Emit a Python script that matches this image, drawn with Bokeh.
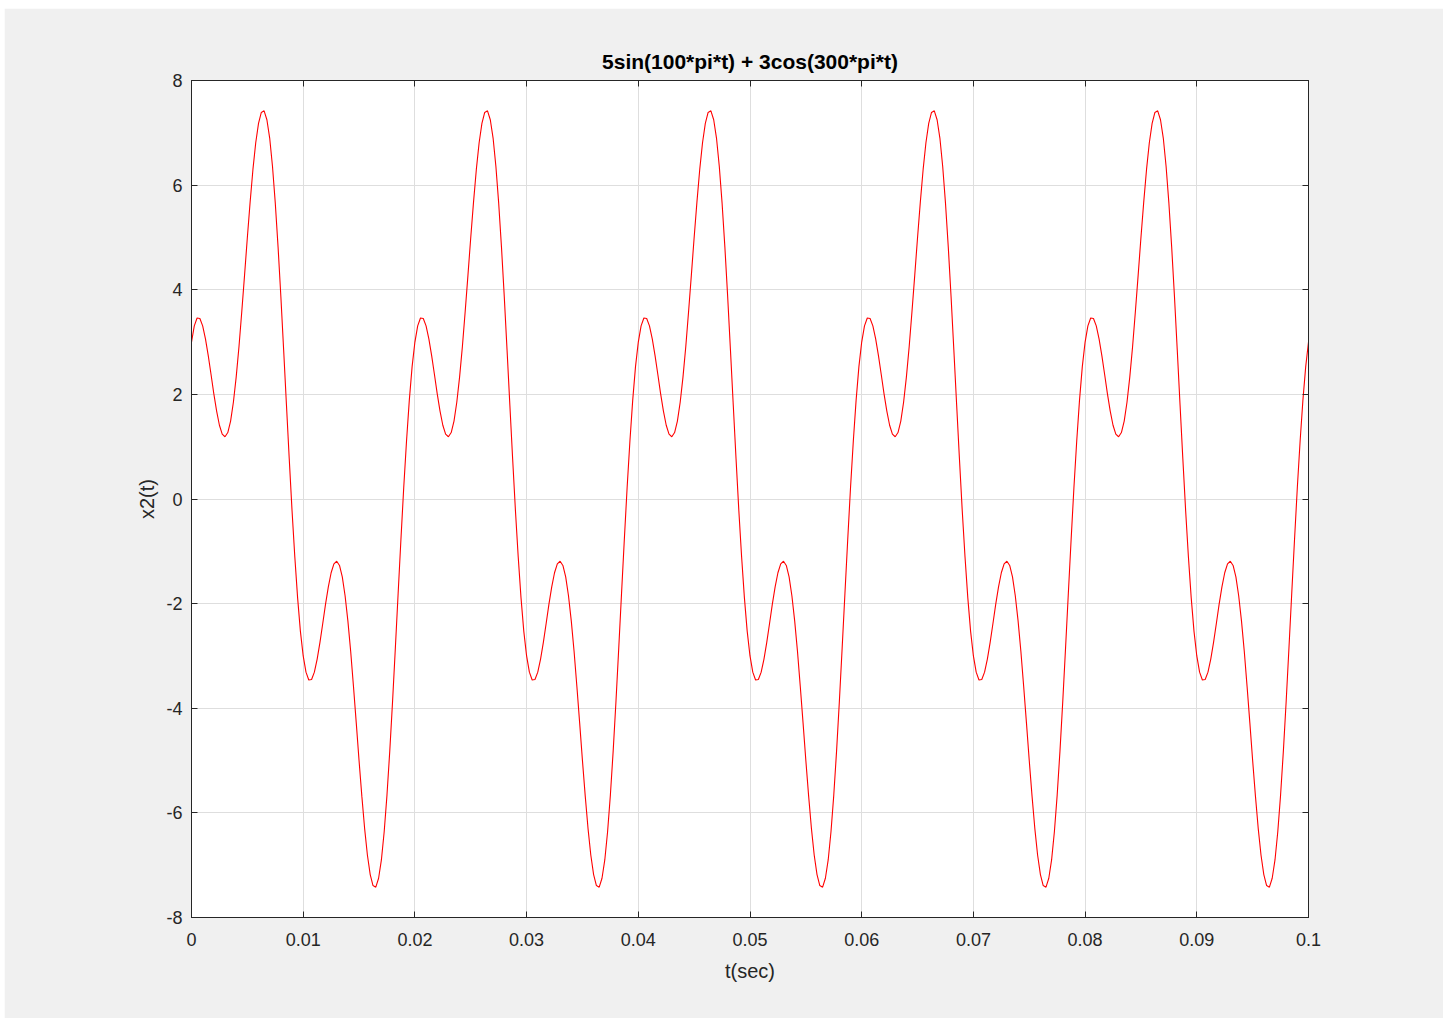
from bokeh.plotting import figure
from bokeh.models import Range1d, LinearAxis, FixedTicker, CustomJSTickFormatter, ColumnDataSource
from bokeh.embed import file_html
from bokeh.resources import INLINE

title_text = "5sin(100*pi*t) + 3cos(300*pi*t)"
x_label = "t(sec)"
y_label = "x2(t)"
x_ticks = [0, 0.01, 0.02, 0.03, 0.04, 0.05, 0.06, 0.07, 0.08, 0.09, 0.1]
y_ticks = [-8, -6, -4, -2, 0, 2, 4, 6, 8]

# one 0.02 s period of the waveform (80 samples)
x2_one_period = [
    3.00, 3.31, 3.46, 3.45, 3.31, 3.06, 2.74, 2.38, 2.01, 1.68,
    1.41, 1.24, 1.19, 1.27, 1.49, 1.85, 2.33, 2.91, 3.58, 4.28,
    5.00, 5.68, 6.30, 6.81, 7.18, 7.39, 7.42, 7.25, 6.90, 6.36,
    5.66, 4.82, 3.87, 2.85, 1.80, 0.77, -0.22, -1.11, -1.89, -2.53,
    -3.00, -3.31, -3.46, -3.45, -3.31, -3.06, -2.74, -2.38, -2.01, -1.68,
    -1.41, -1.24, -1.19, -1.27, -1.49, -1.85, -2.33, -2.91, -3.58, -4.28,
    -5.00, -5.68, -6.30, -6.81, -7.18, -7.39, -7.42, -7.25, -6.90, -6.36,
    -5.66, -4.82, -3.87, -2.85, -1.80, -0.77, 0.22, 1.11, 1.89, 2.53,
]
x2 = x2_one_period * 5 + [3.00]
t = [round(k * 0.00025, 5) for k in range(len(x2))]

src = ColumnDataSource(dict(t=t, x2=x2))

FONT = "Liberation Sans"
DARK = "#262626"

p = figure(width=1439, height=1010, output_backend="svg", toolbar_location=None,
           x_range=Range1d(0, 0.1), y_range=Range1d(-8, 8),
           min_border_left=187, min_border_right=135, min_border_top=72, min_border_bottom=101)
p.styles = {"margin-left": "4px", "margin-top": "8px"}

p.border_fill_color = "#f0f0f0"
p.background_fill_color = "white"
p.outline_line_color = DARK
p.outline_line_width = 1

p.title.text = title_text
p.title.align = "center"
p.title.text_font = FONT
p.title.text_font_size = "21px"
p.title.text_font_style = "bold"
p.title.text_color = "#000000"
p.title.standoff = 15

p.line("t", "x2", source=src, line_color="#ff0000", line_width=1.1)

xfmt = CustomJSTickFormatter(code="""
    if (Math.abs(tick) < 1e-12) return "0";
    let s = tick.toFixed(2);
    s = s.replace(/0+$/, "").replace(/\\.$/, "");
    return s;
""")
yfmt = CustomJSTickFormatter(code="""
    return String(Math.round(tick));
""")
blank = CustomJSTickFormatter(code="return '';")

xa = p.xaxis[0]
xa.ticker = FixedTicker(ticks=x_ticks)
xa.formatter = xfmt
ya = p.yaxis[0]
ya.ticker = FixedTicker(ticks=y_ticks)
ya.formatter = yfmt

for ax in (xa, ya):
    ax.major_tick_in = 6
    ax.major_tick_out = 0
    ax.minor_tick_line_color = None
    ax.major_tick_line_color = DARK
    ax.axis_line_color = DARK
    ax.major_label_text_font = FONT
    ax.major_label_text_font_size = "18px"
    ax.major_label_text_color = DARK
    ax.axis_label_text_font = FONT
    ax.axis_label_text_font_size = "20px"
    ax.axis_label_text_font_style = "normal"
    ax.axis_label_text_color = DARK

xa.axis_label = x_label
xa.major_label_standoff = 15
xa.axis_label_standoff = 11
ya.axis_label = y_label
ya.major_label_standoff = 9
ya.axis_label_standoff = 5

# box ticks on top and right
top = LinearAxis(ticker=FixedTicker(ticks=x_ticks), formatter=blank)
right = LinearAxis(ticker=FixedTicker(ticks=y_ticks), formatter=blank)
for ax in (top, right):
    ax.major_tick_in = 6
    ax.major_tick_out = 0
    ax.minor_tick_line_color = None
    ax.major_tick_line_color = DARK
    ax.axis_line_color = DARK
    ax.major_label_standoff = 0
p.add_layout(top, "above")
p.add_layout(right, "right")

p.xgrid.ticker = FixedTicker(ticks=x_ticks)
p.ygrid.ticker = FixedTicker(ticks=y_ticks)
p.xgrid.grid_line_color = "#dedede"
p.ygrid.grid_line_color = "#dedede"

open("out.html", "w").write(file_html(p, INLINE))
